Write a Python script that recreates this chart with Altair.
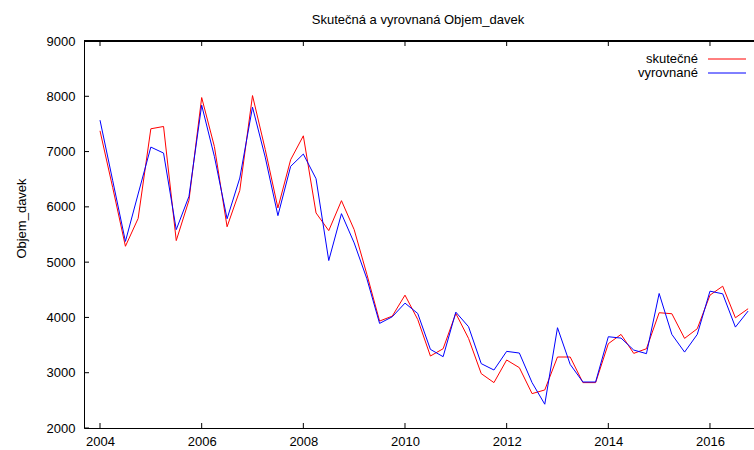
import altair as alt
import pandas as pd

periods = [2004.00, 2004.25, 2004.50, 2004.75, 2005.00, 2005.25, 2005.50, 2005.75,
           2006.00, 2006.25, 2006.50, 2006.75, 2007.00, 2007.25, 2007.50, 2007.75,
           2008.00, 2008.25, 2008.50, 2008.75, 2009.00, 2009.25, 2009.50, 2009.75,
           2010.00, 2010.25, 2010.50, 2010.75, 2011.00, 2011.25, 2011.50, 2011.75,
           2012.00, 2012.25, 2012.50, 2012.75, 2013.00, 2013.25, 2013.50, 2013.75,
           2014.00, 2014.25, 2014.50, 2014.75, 2015.00, 2015.25, 2015.50, 2015.75,
           2016.00, 2016.25, 2016.50, 2016.75]

actual = [7375, 6347, 5287, 5790, 7412, 7454, 5390, 6118,
          7977, 7092, 5640, 6298, 8013, 7040, 5980, 6852,
          7285, 5890, 5570, 6112, 5588, 4780, 3934, 4024,
          4403, 3964, 3302, 3434, 4072, 3621, 2983, 2821,
          3230, 3091, 2622, 2688, 3284, 3284, 2821, 2821,
          3525, 3693, 3350, 3434, 4085, 4067, 3621, 3796,
          4403, 4565, 3994, 4157]

fitted = [7568, 6473, 5375, 6233, 7081, 6973, 5588, 6190,
          7839, 6912, 5785, 6521, 7803, 6900, 5841, 6732,
          6955, 6509, 5029, 5877, 5348, 4700, 3892, 4012,
          4259, 4072, 3422, 3290, 4096, 3832, 3164, 3049,
          3386, 3356, 2821, 2430, 3814, 3150, 2832, 2832,
          3651, 3626, 3410, 3345, 4433, 3693, 3373, 3693,
          4475, 4427, 3825, 4115]

series_names = ["skutečné", "vyrovnané"]
series_colors = ["#ff0000", "#0000ff"]
x_ticks = [2004, 2006, 2008, 2010, 2012, 2014, 2016]
y_ticks = [2000, 3000, 4000, 5000, 6000, 7000, 8000, 9000]

title_text = "Skutečná a vyrovnaná Objem_davek"
y_title = "Objem_davek"

W, H = 670, 387
FONT = "Liberation Sans"

df = pd.concat([
    pd.DataFrame({"t": periods, "v": actual, "s": series_names[0], "o": 0}),
    pd.DataFrame({"t": periods, "v": fitted, "s": series_names[1], "o": 1}),
], ignore_index=True)

xs = alt.Scale(domain=[2003.685, 2016.866], nice=False, zero=False)
ys = alt.Scale(domain=[2000, 9000], nice=False, zero=False)

lines = alt.Chart(df).mark_line(strokeWidth=1, clip=True).encode(
    x=alt.X("t:Q", scale=xs, axis=alt.Axis(
        values=x_ticks, format="d", tickSize=0, labelPadding=7, grid=False, title=None,
        domainColor="black", domainWidth=1, labelColor="black", labelFontSize=13, labelFont=FONT)),
    y=alt.Y("v:Q", scale=ys, axis=alt.Axis(
        values=y_ticks, format="d", tickSize=0, labelPadding=9, grid=False,
        title=y_title, titleFont=FONT, titleFontSize=13, titleFontWeight="normal",
        titleColor="black", titleX=-59, titleY=177, titleBaseline="alphabetic",
        domainColor="black", domainWidth=1, labelColor="black", labelFontSize=13, labelFont=FONT)),
    color=alt.Color("s:N", scale=alt.Scale(domain=series_names, range=series_colors), legend=None),
    order=alt.Order("o:Q"),
)

xt = pd.DataFrame({"t": x_ticks})
yt = pd.DataFrame({"v": y_ticks})

xticks_bottom = alt.Chart(xt).mark_rule(color="black", strokeWidth=1).encode(
    x=alt.X("t:Q", scale=xs), y=alt.value(H), y2=alt.value(H - 5))
xticks_top = alt.Chart(xt).mark_rule(color="black", strokeWidth=1).encode(
    x=alt.X("t:Q", scale=xs), y=alt.value(0), y2=alt.value(5))
yticks_left = alt.Chart(yt).mark_rule(color="black", strokeWidth=1).encode(
    y=alt.Y("v:Q", scale=ys), x=alt.value(0), x2=alt.value(5))
top_border = alt.Chart(xt).mark_rule(color="black", strokeWidth=1).encode(
    x=alt.value(0), x2=alt.value(W), y=alt.value(0))

title_mark = alt.Chart(pd.DataFrame({"txt": [title_text]})).mark_text(
    align="center", baseline="middle", font=FONT, fontSize=13, color="black").encode(
    x=alt.value(334), y=alt.value(-21), text="txt:N")

legend_layers = []
for i, (name, col) in enumerate(zip(series_names, series_colors)):
    ld = pd.DataFrame({"s": [name]})
    yy = 18 + i * 14
    legend_layers.append(alt.Chart(ld).mark_text(
        align="right", baseline="middle", font=FONT, fontSize=13, color="black").encode(
        x=alt.value(614), y=alt.value(yy), text="s:N"))
    legend_layers.append(alt.Chart(ld).mark_rule(color=col, strokeWidth=1).encode(
        x=alt.value(624), x2=alt.value(662), y=alt.value(yy)))

chart = alt.layer(lines, xticks_bottom, xticks_top, yticks_left, top_border, title_mark,
                  *legend_layers).properties(
    width=W, height=H,
    autosize=alt.AutoSizeParams(type="none"),
    padding={"left": 84, "top": 41, "right": 0, "bottom": 22},
).configure_view(stroke=None).configure(background="white")

chart.save("out.html", embed_options={"renderer": "svg", "actions": False})
